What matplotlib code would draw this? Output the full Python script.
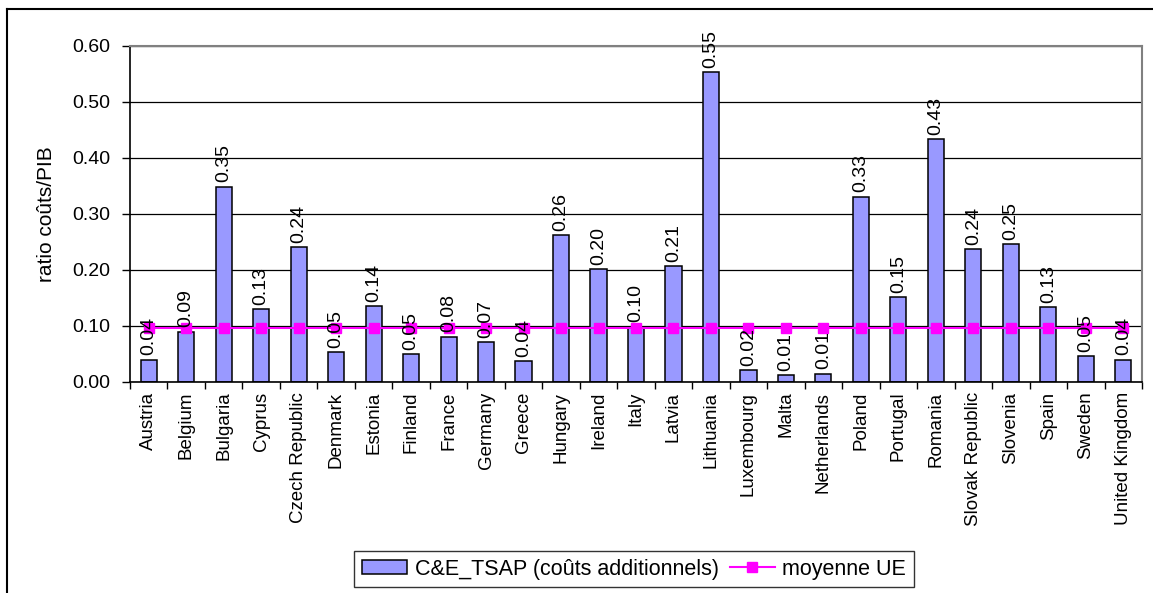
import numpy as np
import matplotlib
matplotlib.use("Agg")
from matplotlib import pyplot as plt
from matplotlib.lines import Line2D

plt.rcParams['font.family'] = ['Liberation Sans', 'DejaVu Sans']

# data
countries = ['Austria', 'Belgium', 'Bulgaria', 'Cyprus', 'Czech Republic', 'Denmark',
             'Estonia', 'Finland', 'France', 'Germany', 'Greece', 'Hungary', 'Ireland',
             'Italy', 'Latvia', 'Lithuania', 'Luxembourg', 'Malta', 'Netherlands',
             'Poland', 'Portugal', 'Romania', 'Slovak Republic', 'Slovenia', 'Spain',
             'Sweden', 'United Kingdom']
ratio = [0.040, 0.090, 0.349, 0.130, 0.241, 0.053, 0.136, 0.050, 0.081, 0.072, 0.038,
         0.263, 0.202, 0.099, 0.207, 0.554, 0.022, 0.012, 0.015, 0.331, 0.152, 0.434,
         0.238, 0.247, 0.134, 0.046, 0.040]
eu_mean = [0.097] * len(countries)
yticks = [0.0, 0.1, 0.2, 0.3, 0.4, 0.5, 0.6]

W, H = 1153, 593
fig = plt.figure(figsize=(W / 100, H / 100), dpi=100)
ax = fig.add_axes([130 / W, 1 - 382 / H, (1142 - 130) / W, (382 - 46) / H])

x = np.arange(len(countries))
bars = ax.bar(x, ratio, width=0.43, color='#9999FF', edgecolor='black', linewidth=1.1,
              label='C&E_TSAP (coûts additionnels)', zorder=2)
line, = ax.plot(x, eu_mean, color='#FF00FF', linewidth=1.5, marker='s', markersize=7.5,
                label='moyenne UE', zorder=3)

# value labels above each bar
for xi, v in zip(x, ratio):
    ax.annotate(f'{v:.2f}', (xi, v), xytext=(0, 3), textcoords='offset points',
                rotation=90, ha='center', va='bottom', fontsize=14, zorder=4)

ax.set_xlim(-0.5, len(countries) - 0.5)
ax.set_ylim(0, 0.6)
ax.set_yticks(yticks)
ax.set_yticklabels([f'{t:.2f}' for t in yticks], fontsize=14)
ax.yaxis.grid(True, color='black', linewidth=0.9, zorder=0)
ax.set_axisbelow(True)
ax.tick_params(axis='y', direction='out', length=6, width=1, pad=8)

ax.set_xticks(x)
ax.set_xticklabels(countries, rotation=90, fontsize=13.5)
ax.set_xticks(np.arange(-0.5, len(countries)), minor=True)
ax.tick_params(axis='x', which='major', length=0, pad=7)
ax.tick_params(axis='x', which='minor', direction='out', length=5, width=1)

ax.set_ylabel('ratio coûts/PIB', fontsize=15, labelpad=12)

for s in ['top', 'right']:
    ax.spines[s].set_color('#808080')
    ax.spines[s].set_linewidth(1.5)
for s in ['left', 'bottom']:
    ax.spines[s].set_color('black')
    ax.spines[s].set_linewidth(1.2)

leg = fig.legend(handles=[bars, line], loc='center', bbox_to_anchor=(634 / W, 1 - 569 / H),
                 ncol=2, fontsize=15.5, frameon=True, fancybox=False, handlelength=2.1,
                 handleheight=0.6, columnspacing=0.5, handletextpad=0.35,
                 borderpad=0.35, borderaxespad=0)
leg.get_frame().set_edgecolor('black')
leg.get_frame().set_linewidth(1.0)

# outer chart frame (cut on right and bottom)
fig.add_artist(Line2D([7 / W, 1], [1 - 9 / H, 1 - 9 / H], color='black', linewidth=1.5,
                      transform=fig.transFigure))
fig.add_artist(Line2D([7 / W, 7 / W], [0, 1 - 9 / H], color='black', linewidth=1.5,
                      transform=fig.transFigure))

fig.savefig('out.png', dpi=100, facecolor='white')
